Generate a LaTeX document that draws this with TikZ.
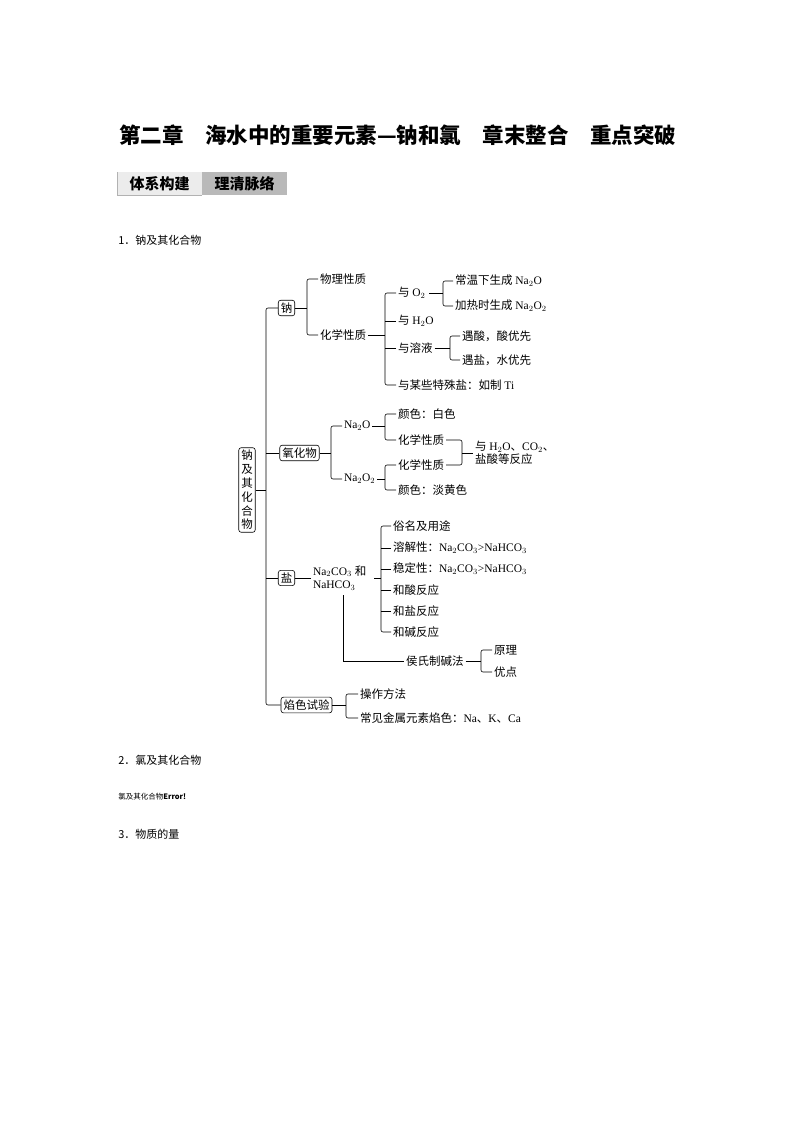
\documentclass[tikz,border=0pt]{standalone}
\usepackage{fontspec}
\setmainfont{Liberation Serif}
\newfontfamily\cjk{Noto Sans CJK SC}
\newcommand\C[1]{{\cjk #1}}
\begin{document}
\begin{tikzpicture}[x=1pt,y=-1pt,
 t/.style={anchor=west,inner sep=0pt,outer sep=2pt,font=\fontsize{11.5}{13.5}\selectfont},
 bx/.style={draw,rounded corners=2.5,inner sep=2.5pt,font=\fontsize{11.5}{13.5}\selectfont\cjk},
 rc/.style={rounded corners=2},
 every path/.style={line width=0.6pt}]
\useasboundingbox (0,0) rectangle (794,1123);
% header
\node[anchor=west,inner sep=0,font=\fontsize{21.5}{24}\selectfont\cjk\bfseries] (title) at (119,135) {第二章\quad 海水中的重要元素—钠和氯\quad 章末整合\quad 重点突破};
\fill[gray!15] (117,172) rectangle (202,195);
\fill[gray!55] (202,172) rectangle (287,195);
\draw[gray!60,line width=1pt] (117,172) -- (117,196) -- (202,196);
\node[anchor=center,inner sep=0,font=\fontsize{15}{17}\selectfont\cjk\bfseries] (tab1) at (159.5,184) {体系构建};
\node[anchor=center,inner sep=0,font=\fontsize{15}{17}\selectfont\cjk\bfseries] (tab2) at (244.5,184) {理清脉络};
\node[anchor=west,inner sep=0,font=\fontsize{11}{13}\selectfont\cjk] (s1) at (118,240) {1．钠及其化合物};
\node[anchor=west,inner sep=0,font=\fontsize{11}{13}\selectfont\cjk] (s2) at (118,760) {2．氯及其化合物};
\node[anchor=west,inner sep=0,font=\fontsize{7.5}{9}\selectfont\cjk] (s2b) at (118,797) {氯及其化合物\textbf{Error!}};
\node[anchor=west,inner sep=0,font=\fontsize{11}{13}\selectfont\cjk] (s3) at (118,834) {3．物质的量};
% root
\node[bx,align=center,font=\fontsize{11.5}{13.8}\selectfont\cjk,inner sep=2.5pt] (root) at (247,490) {钠\\及\\其\\化\\合\\物};
\coordinate (tr) at (266,490);
\node[bx] (na) at (286.5,308) {钠};
\node[bx] (yh) at (299.5,453) {氧化物};
\node[bx] (yan) at (286.5,578) {盐};
\node[bx] (ys) at (306.5,705) {焰色试验};
\draw (root.east) -- (tr);
\draw[rc] (na.west) -| (tr) |- (ys.west);
\draw (yh.west) -- (yh.west -| tr);
\draw (yan.west) -- (yan.west -| tr);
% sodium
\node[t] (wl) at (318,279) {\C{物理性质}};
\node[t] (hx) at (318,335) {\C{化学性质}};
\coordinate (b1) at (307,308);
\draw (na.east) -- (b1);
\draw[rc] (wl.west) -| (b1) |- (hx.west);
\node[t] (o2) at (396,293) {\C{与} O$_2$};
\node[t] (h2o) at (396,321) {\C{与} H$_2$O};
\node[t] (ry) at (396,348) {\C{与溶液}};
\node[t] (ts) at (396,385) {\C{与某些特殊盐：如制} Ti};
\coordinate (b2) at (385,335);
\draw (hx.east) -- (b2);
\draw[rc] (o2.west) -| (b2) |- (ts.west);
\draw (h2o.west) -- (h2o.west -| b2);
\draw (ry.west) -- (ry.west -| b2);
\node[t] (cw) at (453,281) {\C{常温下生成} Na$_2$O};
\node[t] (jr) at (453,306) {\C{加热时生成} Na$_2$O$_2$};
\coordinate (b3) at (443,293);
\draw (o2.east) ++(2,0) -- (b3);
\draw[rc] (cw.west) -| (b3) |- (jr.west);
\node[t] (ys1) at (460,336) {\C{遇酸，酸优先}};
\node[t] (ys2) at (460,360) {\C{遇盐，水优先}};
\coordinate (b4) at (450,348);
\draw (ry.east) -- (b4);
\draw[rc] (ys1.west) -| (b4) |- (ys2.west);
% oxides
\node[t] (n2o) at (342,426) {Na$_2$O};
\node[t] (n2o2) at (342,479) {Na$_2$O$_2$};
\coordinate (b5) at (331,453);
\draw (yh.east) -- (b5);
\draw[rc] (n2o.west) -| (b5) |- (n2o2.west);
\node[t] (bs) at (396,414) {\C{颜色：白色}};
\node[t] (hx1) at (396,440) {\C{化学性质}};
\node[t] (hx2) at (396,465) {\C{化学性质}};
\node[t] (dh) at (396,490) {\C{颜色：淡黄色}};
\coordinate (b6) at (385,426);
\coordinate (b7) at (385,479);
\draw (n2o.east) -- (b6);
\draw[rc] (bs.west) -| (b6) |- (hx1.west);
\draw (n2o2.east) -- (b7);
\draw[rc] (hx2.west) -| (b7) |- (dh.west);
\node[t,align=left] (fy) at (473,453) {\C{与} H$_2$O\C{、}CO$_2$\C{、}\\\C{盐酸等反应}};
\coordinate (bk) at (462,453);
\draw[rc] (hx1.east) -| (bk) |- (hx2.east);
\draw (bk) -- (fy.west);
% salts
\node[t,align=left] (tn) at (311,578) {Na$_2$CO$_3$ \C{和}\\NaHCO$_3$};
\draw (yan.east) -- (tn.west);
\node[t] (s_a) at (391,526) {\C{俗名及用途}};
\node[t] (s_b) at (391,548) {\C{溶解性：}Na$_2$CO$_3$>NaHCO$_3$};
\node[t] (s_c) at (391,569) {\C{稳定性：}Na$_2$CO$_3$>NaHCO$_3$};
\node[t] (s_d) at (391,590) {\C{和酸反应}};
\node[t] (s_e) at (391,611) {\C{和盐反应}};
\node[t] (s_f) at (391,632) {\C{和碱反应}};
\coordinate (b8) at (381,578);
\draw (tn.east) ++(6,0) -- (b8);
\draw[rc] (s_a.west) -| (b8) |- (s_f.west);
\foreach \n in {s_b,s_c,s_d,s_e} \draw (\n.west) -- (\n.west -| b8);
\node[t] (hs) at (404,661) {\C{侯氏制碱法}};
\coordinate (hsc) at (343,595);
\draw (hsc) |- (hs.west);
\node[t] (yl) at (492,650) {\C{原理}};
\node[t] (yd) at (492,672) {\C{优点}};
\coordinate (b9) at (481,661);
\draw (hs.east) -- (b9);
\draw[rc] (yl.west) -| (b9) |- (yd.west);
% flame
\node[t] (cz) at (358,694) {\C{操作方法}};
\node[t] (cj) at (358,718) {\C{常见金属元素焰色：}Na\C{、}K\C{、}Ca};
\coordinate (b10) at (346,705);
\draw (ys.east) -- (b10);
\draw[rc] (cz.west) -| (b10) |- (cj.west);
\end{tikzpicture}
\end{document}
